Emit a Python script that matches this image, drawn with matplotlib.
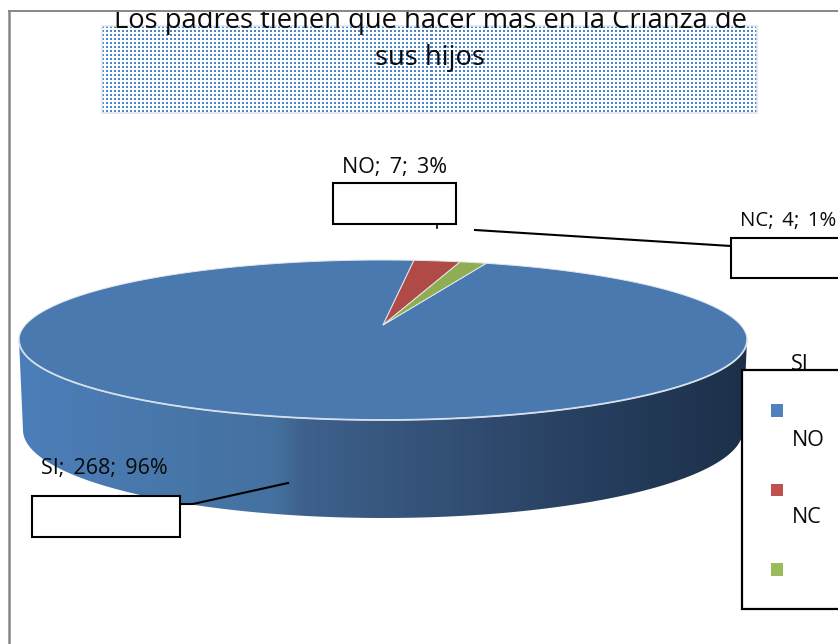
import numpy as np
import matplotlib
matplotlib.use("Agg")
import matplotlib.pyplot as plt
from matplotlib.patches import Rectangle, Polygon

categories = ["SI", "NO", "NC"]
values = [268, 7, 4]
percents = [96, 3, 1]
title_lines = ["Los padres tienen que hacer más en la Crianza de", "sus hijos"]
top_colors = ["#4a79b0", "#b04a47", "#8fad52"]
legend_colors = ["#4f81bd", "#c0504d", "#9bbb59"]

plt.rcParams["font.family"] = ["Open Sans", "DejaVu Sans"]
W, H = 838, 644
fig = plt.figure(figsize=(W / 100, H / 100), dpi=100)
ax = fig.add_axes([0, 0, 1, 1])
ax.set_xlim(0, W)
ax.set_ylim(H, 0)
ax.axis("off")

# dotted title fill
px, py = np.meshgrid(np.arange(655), np.arange(87))
mask = (px % 4 < 2) & (py % 4 < 2)
img = np.ones((87, 655, 3))
img[mask] = matplotlib.colors.to_rgb("#4a86d0")
ax.imshow(img, extent=(102, 757, 113, 26), interpolation="nearest", zorder=2, aspect="auto")
ax.add_patch(Rectangle((102, 26), 655, 87, fc="none", ec="#dce6f2", lw=1.1, zorder=3))
ax.text(430, 28, title_lines[0], ha="center", va="baseline", fontsize=19.7, color="#0a0a0a", zorder=4)
ax.text(430, 65, title_lines[1], ha="center", va="baseline", fontsize=19.7, color="#0a0a0a", zorder=4)

# the frame cuts off the top of the title line
ax.add_patch(Rectangle((0, 0), W, 10, fc="white", ec="none", zorder=4.5))
ax.plot([9, 9], [H, 9.5], color="#868686", lw=1.8, zorder=4.6, solid_capstyle="butt")
ax.plot([8, W], [10.5, 10.5], color="#868686", lw=1.4, zorder=4.6, solid_capstyle="butt")

# pie geometry
cx, cy, a, b = 383, 340, 364, 80
apex_y = 325
depth_cy, depth_a, depth_b = 430, 360, 88

# side wall with a horizontal gradient, clipped to the wall outline
th = np.linspace(0, np.pi, 200)
wall = np.vstack([
    np.c_[cx + a * np.cos(th), cy + b * np.sin(th)],
    np.c_[cx + depth_a * np.cos(th[::-1]), depth_cy + depth_b * np.sin(th[::-1])],
])
stops = [(0, "#4c7eb9"), (0.35, "#44719f"), (0.39, "#3e618c"), (0.65, "#2f4a6e"), (0.85, "#233a58"), (1, "#1d3049")]
cmap = matplotlib.colors.LinearSegmentedColormap.from_list("wall", stops)
grad = ax.imshow(np.linspace(0, 1, 512)[None, :], extent=(19, 747, 530, 330), cmap=cmap,
                 aspect="auto", zorder=5)
grad.set_clip_path(Polygon(wall, closed=True, transform=ax.transData))


def rim_points(phi):
    """Where a ray from the off-centre apex at angle phi (clockwise from up) meets the rim."""
    h = (cy - apex_y) / b
    s, c = np.sin(phi), np.cos(phi)
    r = -h * c + np.sqrt((h * c) ** 2 + 1 - h ** 2)
    return np.c_[cx + a * r * s, cy - b * (h + r * c)]


# top face, slices from the data (clockwise, NO starts just right of 12 o'clock)
fractions = np.array(values) / sum(values)
t0 = np.deg2rad(6.0)
no_end = t0 + 2 * np.pi * fractions[1]
nc_end = no_end + 2 * np.pi * fractions[2]
spans = [(nc_end, t0 + 2 * np.pi), (t0, no_end), (no_end, nc_end)]
for (s, e), col in zip(spans, top_colors):
    pts = rim_points(np.linspace(s, e, 400))
    poly = np.vstack([(cx, apex_y), pts])
    ax.add_patch(Polygon(poly, closed=True, fc=col, ec="#dfe6ee", lw=0.7, zorder=6))
# front rim highlight
ax.plot(cx + a * np.cos(th), cy + b * np.sin(th), color="#d5e0ec", lw=1.3, zorder=7)

# leader lines
ax.plot([437, 437], [224, 228], color="black", lw=1.2, zorder=8)
ax.plot([475, 731], [230, 246], color="black", lw=1.5, zorder=8)
ax.plot([180, 193, 288], [504, 504, 483], color="black", lw=1.5, zorder=8)

# label boxes
for x0, y0, w, h in [(333, 183, 123, 41), (731, 238, 120, 40), (32, 496, 148, 41)]:
    ax.add_patch(Rectangle((x0, y0), w, h, fc="white", ec="black", lw=1.5, zorder=9))
labels = [f"{c};\u2009 {v};\u2009 {p}%" for c, v, p in zip(categories, values, percents)]
ax.text(342, 173, labels[1], fontsize=15.5, va="baseline", color="#0a0a0a", zorder=10)
ax.text(740, 226, labels[2], fontsize=14.7, va="baseline", color="#0a0a0a", zorder=10)
ax.text(41, 474, labels[0], fontsize=15.5, va="baseline", color="#0a0a0a", zorder=10)

# legend
ax.add_patch(Rectangle((742, 370), 120, 238.5, fc="white", ec="black", lw=1.6, zorder=9))
for y, col in zip([404, 483.5, 563], legend_colors):
    ax.add_patch(Rectangle((771, y), 12, 12.5, fc=col, ec="none", zorder=10))
ax.text(791, 370, categories[0], fontsize=15.5, va="baseline", color="#0a0a0a", zorder=8)
ax.text(792, 446, categories[1], fontsize=15.5, va="baseline", color="#0a0a0a", zorder=10)
ax.text(792, 523, categories[2], fontsize=15.5, va="baseline", color="#0a0a0a", zorder=10)

ax.set_xlim(0, W)
ax.set_ylim(H, 0)
fig.savefig("out.png", dpi=100)
